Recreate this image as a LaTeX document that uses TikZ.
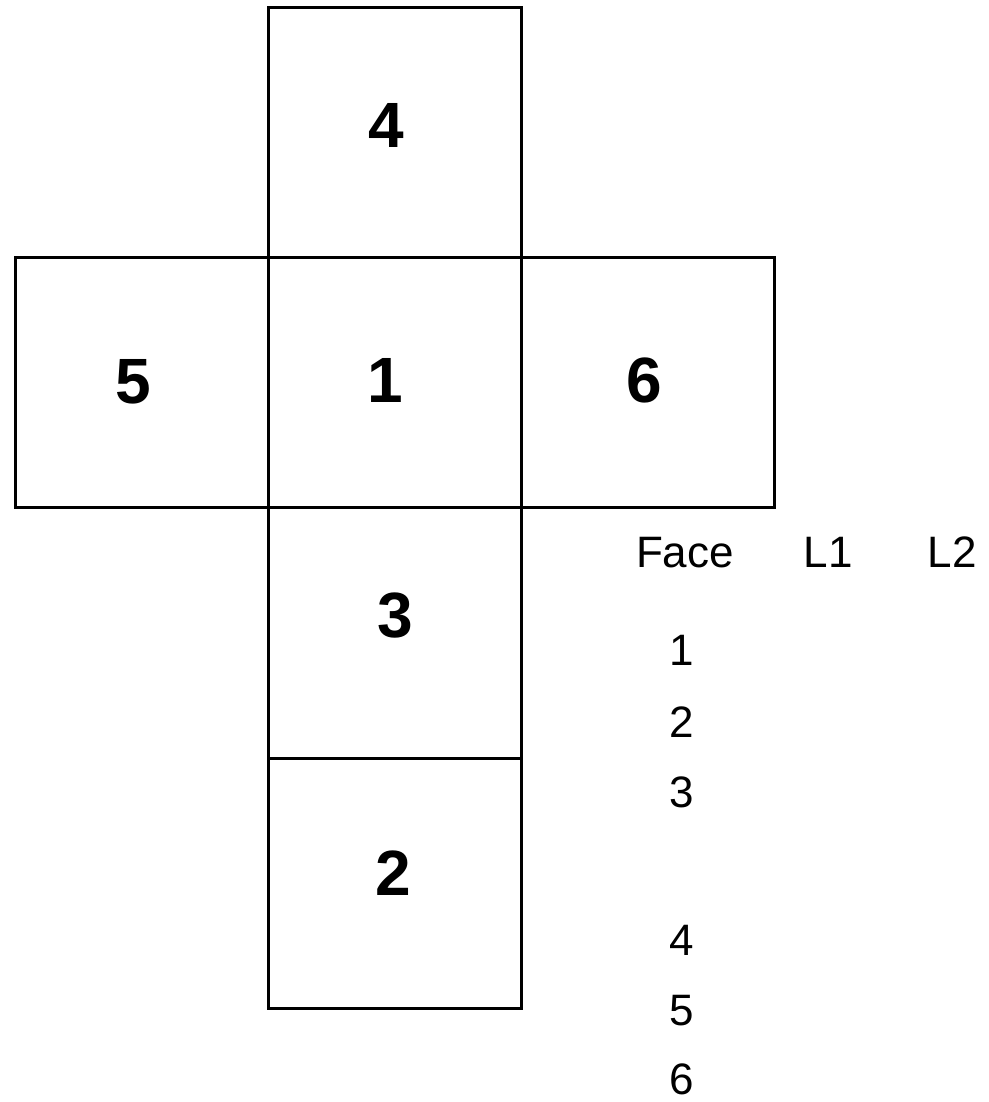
\documentclass[tikz,border=0pt]{standalone}
\usepackage{fontspec}
\setmainfont{Liberation Sans}
\begin{document}
\begin{tikzpicture}[x=1pt,y=-1pt,
  facebox/.style={draw=black,line width=3.2pt,minimum width=253pt,minimum height=250.5pt,inner sep=0pt,outer sep=0pt},
  biglabel/.style={anchor=base,inner sep=0pt,font=\fontsize{64}{64}\selectfont\bfseries},
  tabtext/.style={anchor=base,inner sep=0pt,font=\fontsize{44}{44}\selectfont}]
\useasboundingbox (0,0) rectangle (988,1102);
% faces of the net
\node[facebox] (s4) at (394.75,132.5) {};
\node[facebox] (s5) at (141.75,382.5) {};
\node[facebox] (s1) at (394.75,382.5) {};
\node[facebox] (s6) at (648,382.5) {};
\node[facebox] (s3) at (394.75,633) {};
\node[facebox] (s2) at (394.75,883.5) {};
% face numbers
\node[biglabel] (l4) at (386,148) {4};
\node[biglabel] (l5) at (133,403) {5};
\node[biglabel] (l1) at (385,402) {1};
\node[biglabel] (l6) at (644,402) {6};
\node[biglabel] (l3) at (395,637) {3};
\node[biglabel] (l2) at (393,895) {2};
% table
\node[tabtext] (hface) at (685,567) {Face};
\node[tabtext] (hl1) at (828,567) {L1};
\node[tabtext] (hl2) at (952,567) {L2};
\node[tabtext] (t1) at (682,665) {1};
\node[tabtext] (t2) at (682,737) {2};
\node[tabtext] (t3) at (682,807) {3};
\node[tabtext] (t4) at (682,955) {4};
\node[tabtext] (t5) at (682,1025) {5};
\node[tabtext] (t6) at (682,1094) {6};
\end{tikzpicture}
\end{document}
